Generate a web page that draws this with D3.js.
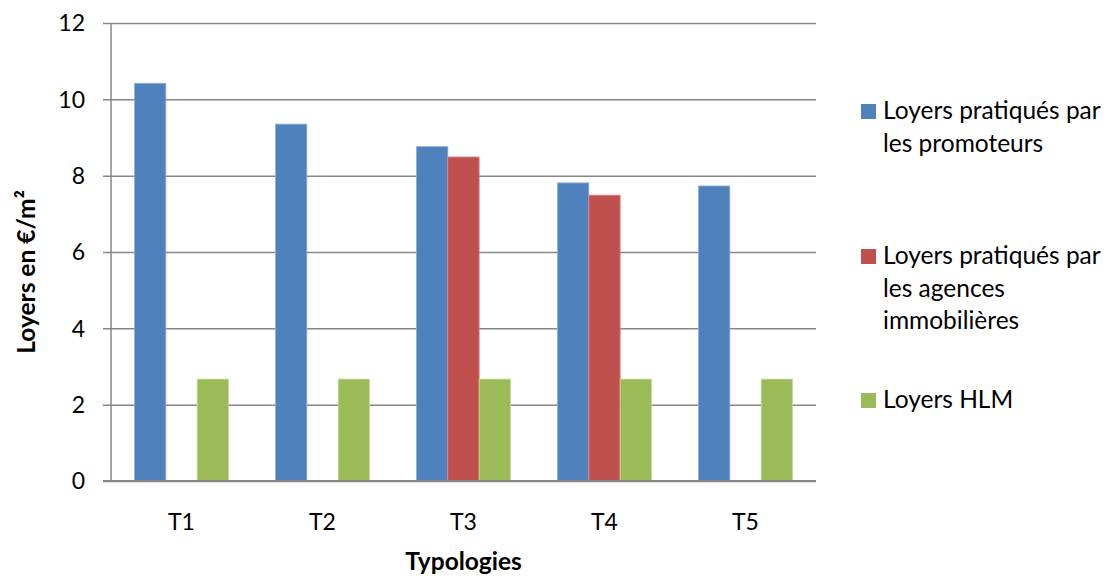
<!DOCTYPE html>
<html>
<head>
<meta charset="utf-8">
<script src="https://cdn.jsdelivr.net/npm/d3@7"></script>
<style>
  html, body { margin: 0; padding: 0; background: #fff; }
  svg { display: block; font-family: Lato, "Open Sans", sans-serif; }
</style>
</head>
<body>
<svg id="chart" width="1106" height="577"></svg>
<script>
// Rents per m² by dwelling type
const categories = ["T1", "T2", "T3", "T4", "T5"];
const seriesNames = [
  "Loyers pratiqués par les promoteurs",
  "Loyers pratiqués par les agences immobilières",
  "Loyers HLM"
];
const promoteurs = [10.42, 9.35, 8.76, 7.81, 7.73];
const agences = [null, null, 8.49, 7.49, null];
const hlm = [2.67, 2.67, 2.67, 2.67, 2.67];
const yTicks = [0, 2, 4, 6, 8, 10, 12];
const legendLines = [
  ["Loyers pratiqués par", "les promoteurs"],
  ["Loyers pratiqués par", "les agences", "immobilières"],
  ["Loyers HLM"]
];
const colors = ["#4F81BD", "#C0504D", "#9BBB59"];
const edgeColors = ["#8DAEDB", "#DE8A88", "#C4DA9A"];

const series = [promoteurs, agences, hlm];

const svg = d3.select("#chart");
const plot = { left: 111, right: 816, top: 23, bottom: 481 };

const x = d3.scaleBand()
  .domain(categories)
  .range([plot.left, plot.right])
  .paddingInner(0)
  .paddingOuter(0);

// Excel-style gap width: 150% of a bar
const barW = x.bandwidth() / (series.length + 1.5);
const xInner = d3.scaleBand()
  .domain(d3.range(series.length))
  .range([x.bandwidth() / 2 - barW * series.length / 2, x.bandwidth() / 2 + barW * series.length / 2]);

const y = d3.scaleLinear().domain([0, 12]).range([plot.bottom, plot.top]);

// Gridlines with short outer ticks
const grid = svg.append("g")
  .attr("transform", `translate(${plot.left},0)`)
  .call(d3.axisLeft(y).tickValues(yTicks).tickSize(-(plot.right - plot.left)).tickFormat(""));
grid.select(".domain").remove();
grid.selectAll(".tick line")
  .attr("x1", -8)
  .attr("stroke", "#868686")
  .attr("stroke-width", 1.5);

// Y tick labels
svg.append("g")
  .selectAll("text")
  .data(yTicks)
  .join("text")
  .attr("x", 85)
  .attr("y", d => y(d))
  .attr("dy", "0.36em")
  .attr("text-anchor", "end")
  .attr("font-size", 23)
  .attr("fill", "#000")
  .text(d => d);

// Bars
series.forEach((vals, si) => {
  svg.append("g")
    .selectAll("rect")
    .data(categories.map((c, i) => ({ c, v: vals[i] })).filter(d => d.v != null))
    .join("rect")
    .attr("x", d => x(d.c) + xInner(si))
    .attr("y", d => y(d.v))
    .attr("width", xInner.bandwidth())
    .attr("height", d => y(0) - y(d.v))
    .attr("fill", colors[si])
    .attr("stroke", edgeColors[si])
    .attr("stroke-width", 0.8);
});

// Axes lines
svg.append("line")
  .attr("x1", plot.left).attr("x2", plot.left)
  .attr("y1", plot.top).attr("y2", plot.bottom)
  .attr("stroke", "#868686").attr("stroke-width", 1.5);
svg.append("line")
  .attr("x1", plot.left - 8).attr("x2", plot.right)
  .attr("y1", plot.bottom).attr("y2", plot.bottom)
  .attr("stroke", "#868686").attr("stroke-width", 2);

// Category labels
svg.append("g")
  .selectAll("text")
  .data(categories)
  .join("text")
  .attr("x", d => x(d) + x.bandwidth() / 2)
  .attr("y", 522)
  .attr("dy", "0.36em")
  .attr("text-anchor", "middle")
  .attr("font-size", 23)
  .text(d => d);

// Axis titles
svg.append("text")
  .attr("x", (plot.left + plot.right) / 2)
  .attr("y", 570)
  .attr("text-anchor", "middle")
  .attr("font-size", 24.5)
  .attr("font-weight", "bold")
  .text("Typologies");

svg.append("text")
  .attr("transform", `translate(26,${(plot.top + plot.bottom) / 2 + 20}) rotate(-90)`)
  .attr("dy", "0.36em")
  .attr("text-anchor", "middle")
  .attr("font-size", 24.5)
  .attr("font-weight", "bold")
  .text("Loyers en €/m²");

// Legend: first-line baselines, each entry's square sits on that line
const legendBaselines = [119, 264, 408];
const lineH = 32.5;
const legend = svg.append("g");
legendLines.forEach((lines, i) => {
  legend.append("rect")
    .attr("x", 861)
    .attr("y", legendBaselines[i] - 15)
    .attr("width", 15)
    .attr("height", 15)
    .attr("fill", colors[i]);
  legend.append("text")
    .attr("font-size", 24.5)
    .selectAll("tspan")
    .data(lines)
    .join("tspan")
    .attr("x", 883)
    .attr("y", (d, j) => legendBaselines[i] + j * lineH)
    .text(d => d);
});
</script>
</body>
</html>
